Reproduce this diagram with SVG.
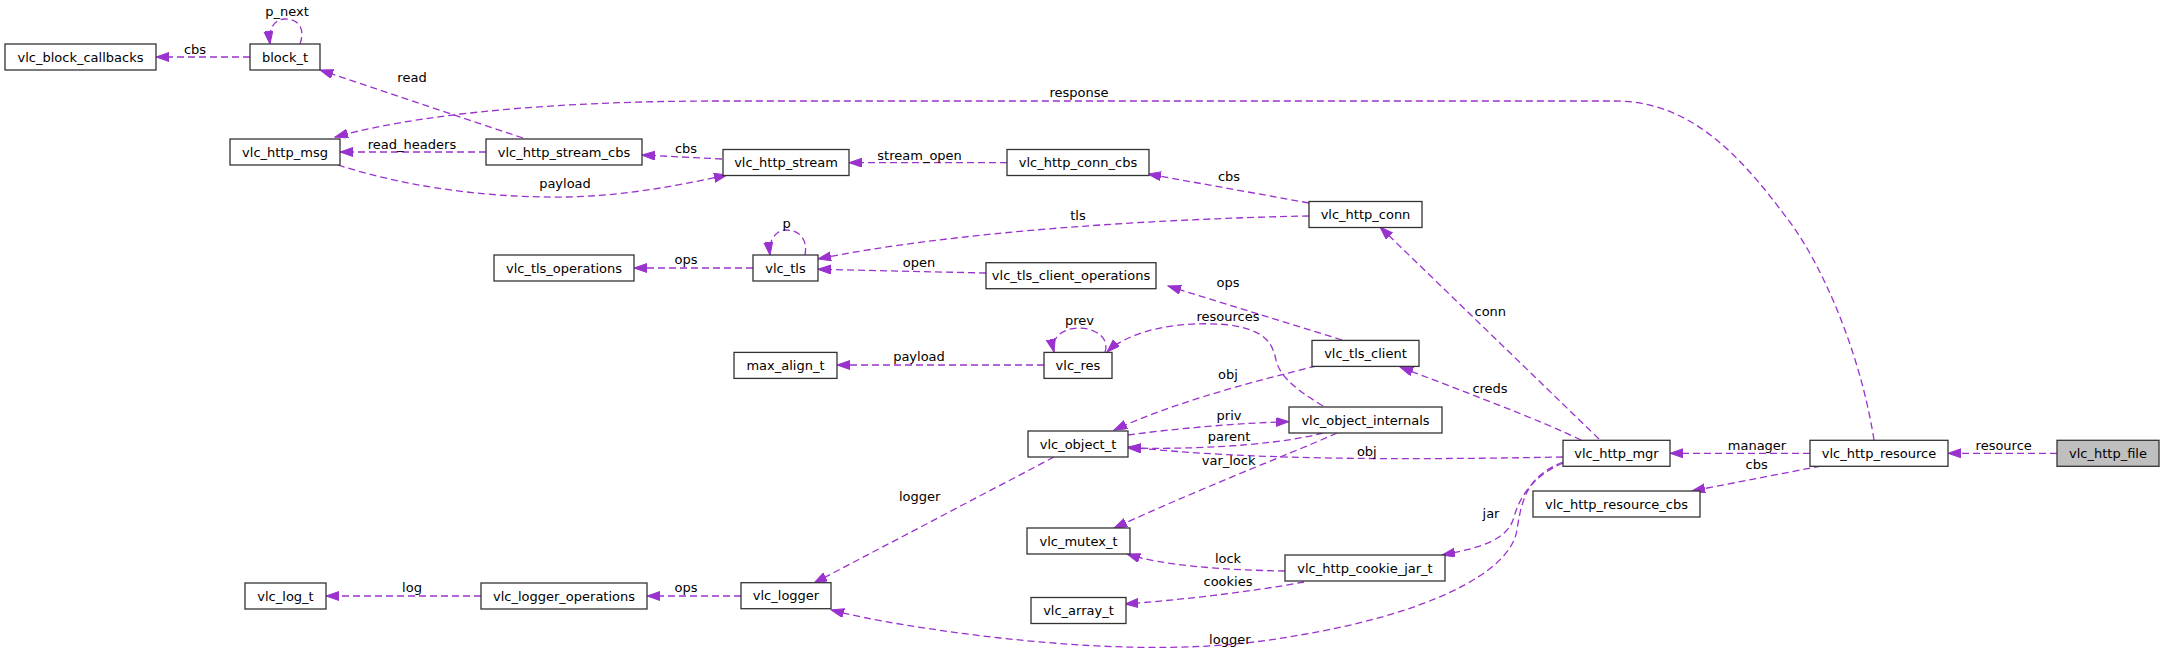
<svg xmlns="http://www.w3.org/2000/svg" width="2164" height="658" viewBox="0 0 2164 658">
<style>
.n rect{fill:#fff;stroke:#333;stroke-width:1.3}
.n text{font-family:"DejaVu Sans",sans-serif;font-size:13px;fill:#000;text-anchor:middle}
.e path{fill:none;stroke:#9a32cd;stroke-width:1.3;stroke-dasharray:7,4;marker-end:url(#ah)}
.e text{font-family:"DejaVu Sans",sans-serif;font-size:13px;fill:#000;text-anchor:middle}
</style>
<defs>
<marker id="ah" markerUnits="userSpaceOnUse" markerWidth="14" markerHeight="10" refX="13" refY="4.5" orient="auto">
<path d="M0,0 L13,4.5 L0,9 Z" fill="#9a32cd" stroke="#9a32cd" stroke-width="1"/>
</marker>
</defs>
<rect width="2164" height="658" fill="#fff"/>
<g id="edges" class="e">
<path d="M250,57 L156,57"/><text x="195" y="53.5">cbs</text>
<path d="M300,44 C305,30 300,19 285,19 C275,19 268,28 270,44"/><text x="287" y="16">p_next</text>
<path d="M523,138 L320,70"/><text x="412" y="81.5">read</text>
<path d="M486,152 L340,152"/><text x="412" y="148.5">read_headers</text>
<path d="M338,165 C400,185 480,198 565,197 C630,196 690,183 727,175"/><text x="565" y="187.5">payload</text>
<path d="M722,159 L642,155"/><text x="686" y="152.8">cbs</text>
<path d="M1007,162.7 L849,162.7"/><text x="919.6" y="159.5">stream_open</text>
<path d="M1309,203 L1148,174"/><text x="1229" y="181.2">cbs</text>
<path d="M1309,216 C1150,219 950,232 818,259"/><text x="1078" y="219.5">tls</text>
<path d="M805,255 C808,240 800,230 786,230 C776,230 768,240 770,255"/><text x="786.7" y="227.8">p</text>
<path d="M753,268 L634,268"/><text x="686" y="263.8">ops</text>
<path d="M986,273 L818,269.3"/><text x="919" y="267.2">open</text>
<path d="M1342,340 L1168,286"/><text x="1228" y="287.2">ops</text>
<path d="M1105,352 C1110,338 1095,328 1079,328 C1065,328 1050,336 1054,352"/><text x="1079.5" y="324.5">prev</text>
<path d="M1323,406 C1300,392 1280,378 1276,360 C1272,340 1262,330 1230,325 C1180,320 1130,330 1107,352"/><text x="1228" y="321.2">resources</text>
<path d="M1044,365 L837,365"/><text x="919" y="360.5">payload</text>
<path d="M1316,366 C1260,380 1180,400 1114,430"/><text x="1228" y="379.2">obj</text>
<path d="M1128,435 C1180,428 1240,423 1289,421.7"/><text x="1229" y="419.5">priv</text>
<path d="M1323,433 C1290,442 1220,450 1128,448"/><text x="1229" y="441.2">parent</text>
<path d="M1337,433 C1300,450 1220,480 1114,528"/><text x="1228.6" y="464.5">var_lock</text>
<path d="M1563,457 C1400,460 1250,460 1128,447"/><text x="1366.8" y="455.5">obj</text>
<path d="M1054,457 L814,583"/><text x="919.6" y="501.2">logger</text>
<path d="M741,596 L647,596"/><text x="686" y="592.2">ops</text>
<path d="M481,596 L326,596"/><text x="412" y="592.2">log</text>
<path d="M1563,462 C1530,475 1522,495 1517,530 C1510,575 1420,615 1300,635 C1220,650 1130,652 1000,638 C930,630 870,620 831,610"/><text x="1229.8" y="643.5">logger</text>
<path d="M1563,463 C1535,475 1520,495 1514,517 C1508,540 1480,548 1442,555"/><text x="1491" y="517.5">jar</text>
<path d="M1285,571 C1220,570 1160,565 1127,554"/><text x="1228" y="562.8">lock</text>
<path d="M1304,582 C1250,592 1180,600 1125,604"/><text x="1228" y="585.5">cookies</text>
<path d="M1581,440 C1540,420 1460,390 1400,367"/><text x="1490" y="392.8">creds</text>
<path d="M1599,439 L1380,227"/><text x="1490.3" y="316.2">conn</text>
<path d="M1810,453.3 L1670,453.3"/><text x="1757" y="449.5">manager</text>
<path d="M1821,466 L1692,491"/><text x="1756.7" y="469.2">cbs</text>
<path d="M1874,440 C1860,350 1820,260 1786,217 C1740,155 1690,101 1615,101 L720,101 C600,101 440,108 335,137"/><text x="1079" y="97.2">response</text>
<path d="M2057,453.3 L1948,453.3"/><text x="2003.7" y="449.5">resource</text>
</g>
<g id="vlc_block_callbacks" class="n"><rect x="5" y="44" width="151" height="26"/><text x="80.5" y="61.5">vlc_block_callbacks</text></g>
<g id="block_t" class="n"><rect x="250" y="44" width="70" height="26"/><text x="285" y="61.5">block_t</text></g>
<g id="vlc_http_msg" class="n"><rect x="230" y="139" width="110" height="26"/><text x="285" y="156.5">vlc_http_msg</text></g>
<g id="vlc_http_stream_cbs" class="n"><rect x="486" y="139" width="156" height="26"/><text x="564" y="156.5">vlc_http_stream_cbs</text></g>
<g id="vlc_http_stream" class="n"><rect x="723" y="149.5" width="126" height="26"/><text x="786" y="167">vlc_http_stream</text></g>
<g id="vlc_http_conn_cbs" class="n"><rect x="1007" y="149.5" width="142" height="26"/><text x="1078" y="167">vlc_http_conn_cbs</text></g>
<g id="vlc_http_conn" class="n"><rect x="1309" y="201.5" width="113" height="26"/><text x="1365.5" y="219">vlc_http_conn</text></g>
<g id="vlc_tls_operations" class="n"><rect x="494" y="255" width="140" height="26"/><text x="564" y="272.5">vlc_tls_operations</text></g>
<g id="vlc_tls" class="n"><rect x="753" y="255" width="65" height="26"/><text x="785.5" y="272.5">vlc_tls</text></g>
<g id="vlc_tls_client_operations" class="n"><rect x="986" y="262.7" width="170" height="26"/><text x="1071" y="280.2">vlc_tls_client_operations</text></g>
<g id="max_align_t" class="n"><rect x="734" y="352.4" width="103" height="26"/><text x="785.5" y="369.9">max_align_t</text></g>
<g id="vlc_res" class="n"><rect x="1044" y="352.4" width="68" height="26"/><text x="1078" y="369.9">vlc_res</text></g>
<g id="vlc_tls_client" class="n"><rect x="1312" y="340.4" width="107" height="26"/><text x="1365.5" y="357.9">vlc_tls_client</text></g>
<g id="vlc_object_internals" class="n"><rect x="1289" y="407" width="153" height="26"/><text x="1365.5" y="424.5">vlc_object_internals</text></g>
<g id="vlc_object_t" class="n"><rect x="1028" y="431" width="100" height="26"/><text x="1078" y="448.5">vlc_object_t</text></g>
<g id="vlc_mutex_t" class="n"><rect x="1027" y="528" width="103" height="26"/><text x="1078.5" y="545.5">vlc_mutex_t</text></g>
<g id="vlc_http_cookie_jar_t" class="n"><rect x="1285" y="555" width="160" height="26"/><text x="1365" y="572.5">vlc_http_cookie_jar_t</text></g>
<g id="vlc_array_t" class="n"><rect x="1031" y="597.5" width="95" height="26"/><text x="1078.5" y="615">vlc_array_t</text></g>
<g id="vlc_log_t" class="n"><rect x="245" y="583" width="81" height="26"/><text x="285.5" y="600.5">vlc_log_t</text></g>
<g id="vlc_logger_operations" class="n"><rect x="481" y="583" width="166" height="26"/><text x="564" y="600.5">vlc_logger_operations</text></g>
<g id="vlc_logger" class="n"><rect x="741" y="582.7" width="90" height="26"/><text x="786" y="600.2">vlc_logger</text></g>
<g id="vlc_http_mgr" class="n"><rect x="1563" y="440.3" width="107" height="26"/><text x="1616.5" y="457.8">vlc_http_mgr</text></g>
<g id="vlc_http_resource_cbs" class="n"><rect x="1533" y="491" width="167" height="26"/><text x="1616.5" y="508.5">vlc_http_resource_cbs</text></g>
<g id="vlc_http_resource" class="n"><rect x="1810" y="440.3" width="138" height="26"/><text x="1879" y="457.8">vlc_http_resource</text></g>
<g id="vlc_http_file" class="n"><rect x="2057" y="440.3" width="102" height="26" style="fill:#bfbfbf"/><text x="2108" y="457.8">vlc_http_file</text></g>
</svg>
